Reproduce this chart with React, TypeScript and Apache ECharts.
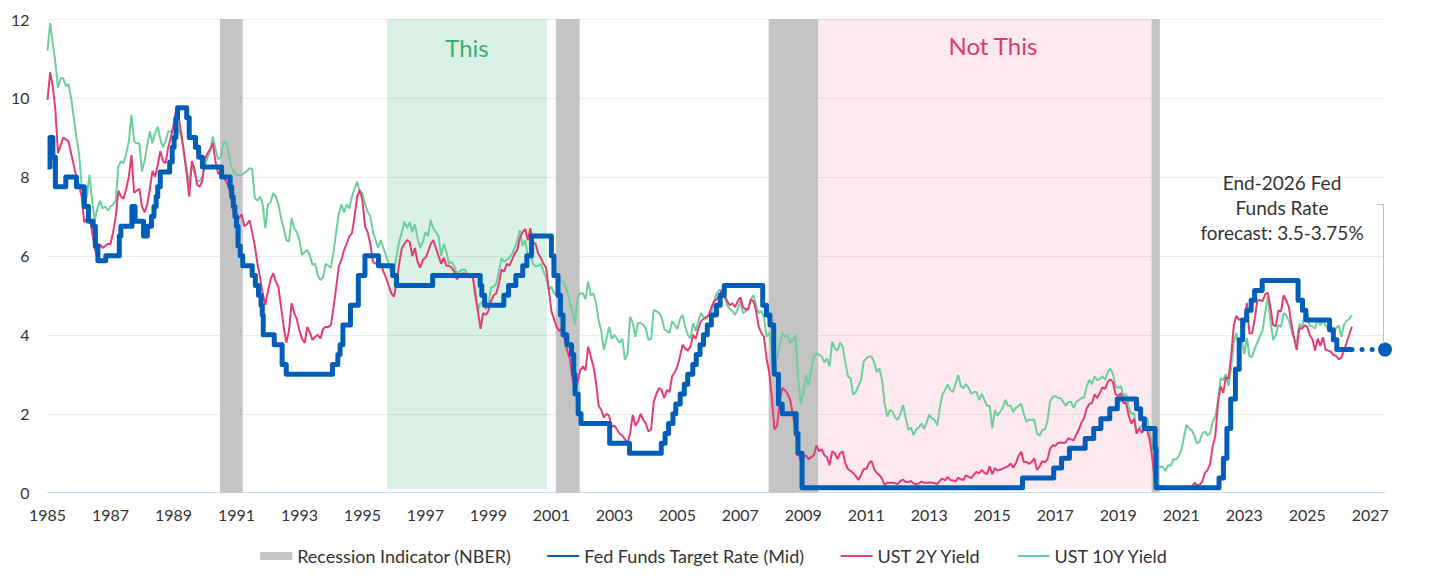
import React, { useEffect, useRef } from "react";
import * as echarts from "echarts";

const BASE_YEAR = 1985;
const AXIS_END_YEAR = 2027.47;

// Monthly UST 2Y yields, Jan 1985 .. Jun 2026 (one row per year)
const UST2Y: number[][] = [
  [9.95, 10.65, 10.3, 9.7, 8.6, 8.8, 9.0, 8.95, 8.9, 8.6, 8.3, 8.0],
  [7.8, 7.5, 6.85, 6.95, 7.0, 6.6, 6.2, 5.95, 6.3, 6.2, 6.25, 6.3],
  [6.3, 6.6, 7.0, 7.65, 7.5, 7.45, 7.7, 8.0, 8.55, 7.6, 7.65, 7.7],
  [7.25, 7.1, 7.3, 7.7, 8.15, 8.0, 8.3, 8.65, 8.4, 8.35, 8.75, 9.0],
  [9.3, 9.7, 9.5, 9.1, 8.6, 8.1, 7.5, 8.4, 8.2, 7.8, 7.75, 7.9],
  [8.45, 8.6, 8.7, 8.86, 8.4, 8.1, 8.05, 8.0, 7.9, 7.75, 7.45, 7.1],
  [7.05, 6.95, 7.05, 6.75, 6.8, 6.9, 6.6, 6.25, 5.8, 5.45, 5.05, 4.76],
  [5.1, 5.4, 5.56, 5.35, 5.2, 4.7, 4.2, 3.8, 4.1, 4.8, 4.55, 4.4],
  [4.1, 3.9, 3.79, 4.2, 4.05, 3.87, 3.95, 4.0, 3.9, 4.15, 4.2, 4.2],
  [4.25, 4.7, 5.2, 5.73, 5.9, 6.15, 6.3, 6.5, 6.57, 7.0, 7.5, 7.67],
  [7.4, 6.74, 6.6, 6.3, 5.85, 5.8, 5.85, 5.8, 5.6, 5.45, 5.25, 5.05],
  [4.97, 5.3, 5.8, 6.19, 6.3, 6.4, 6.35, 6.0, 6.2, 5.85, 5.7, 5.9],
  [5.95, 6.1, 6.3, 6.4, 6.2, 6.0, 5.8, 5.95, 5.75, 5.75, 5.7, 5.6],
  [5.4, 5.5, 5.55, 5.55, 5.5, 5.45, 5.5, 5.0, 4.6, 4.15, 4.55, 4.5],
  [4.6, 4.85, 5.0, 5.05, 5.3, 5.65, 5.6, 5.8, 5.75, 5.9, 6.05, 6.15],
  [6.45, 6.6, 6.68, 6.4, 6.7, 6.35, 6.3, 6.05, 5.95, 5.8, 5.7, 5.15],
  [4.6, 4.4, 4.2, 4.1, 4.15, 3.9, 3.6, 3.4, 2.9, 2.6, 2.8, 3.1],
  [3.2, 3.1, 3.7, 3.45, 3.2, 2.8, 2.2, 2.1, 1.9, 2.0, 1.95, 1.67],
  [1.7, 1.6, 1.5, 1.45, 1.35, 1.26, 1.5, 1.97, 1.7, 1.8, 2.0, 1.85],
  [1.75, 1.55, 1.6, 2.3, 2.5, 2.65, 2.6, 2.4, 2.6, 2.55, 2.95, 3.05],
  [3.2, 3.45, 3.75, 3.65, 3.6, 3.7, 4.0, 3.9, 4.15, 4.35, 4.4, 4.45],
  [4.5, 4.7, 4.85, 4.9, 5.0, 5.14, 5.0, 4.85, 4.75, 4.8, 4.7, 4.85],
  [4.95, 4.7, 4.65, 4.65, 4.9, 4.85, 4.6, 4.2, 4.05, 3.95, 3.4, 3.05],
  [2.4, 1.6, 1.7, 2.3, 2.65, 2.6, 2.5, 2.35, 2.0, 1.55, 1.05, 0.79],
  [0.9, 0.95, 0.85, 0.9, 0.95, 1.2, 1.05, 1.1, 0.95, 0.9, 0.7, 1.05],
  [1.0, 0.85, 1.0, 1.05, 0.75, 0.6, 0.55, 0.5, 0.42, 0.32, 0.45, 0.6],
  [0.6, 0.75, 0.8, 0.6, 0.5, 0.45, 0.35, 0.2, 0.25, 0.25, 0.25, 0.24],
  [0.22, 0.3, 0.33, 0.27, 0.27, 0.3, 0.23, 0.22, 0.23, 0.28, 0.25, 0.25],
  [0.26, 0.25, 0.24, 0.22, 0.3, 0.36, 0.31, 0.4, 0.32, 0.31, 0.28, 0.38],
  [0.34, 0.32, 0.44, 0.4, 0.37, 0.46, 0.53, 0.49, 0.58, 0.5, 0.47, 0.67],
  [0.47, 0.62, 0.56, 0.58, 0.61, 0.64, 0.67, 0.74, 0.64, 0.75, 0.93, 1.04],
  [0.78, 0.78, 0.73, 0.78, 0.87, 0.58, 0.66, 0.8, 0.77, 0.84, 1.11, 1.2],
  [1.19, 1.26, 1.27, 1.26, 1.28, 1.38, 1.35, 1.33, 1.47, 1.6, 1.78, 1.89],
  [2.14, 2.25, 2.27, 2.49, 2.4, 2.53, 2.67, 2.63, 2.81, 2.87, 2.8, 2.49],
  [2.45, 2.52, 2.27, 2.27, 1.95, 1.75, 1.87, 1.5, 1.63, 1.52, 1.61, 1.58],
  [1.33, 0.86, 0.25, 0.2, 0.16, 0.16, 0.11, 0.13, 0.13, 0.14, 0.15, 0.12],
  [0.11, 0.13, 0.16, 0.16, 0.14, 0.25, 0.19, 0.2, 0.28, 0.5, 0.57, 0.73],
  [1.18, 1.44, 2.28, 2.7, 2.53, 2.92, 2.89, 3.45, 4.22, 4.48, 4.38, 4.41],
  [4.21, 4.81, 4.03, 4.04, 4.4, 4.87, 4.88, 4.85, 5.03, 5.07, 4.68, 4.25],
  [4.21, 4.62, 4.59, 5.0, 4.87, 4.71, 4.26, 3.91, 3.62, 4.17, 4.15, 4.24],
  [4.2, 3.99, 3.88, 3.6, 3.9, 3.72, 3.94, 3.62, 3.6, 3.57, 3.49, 3.47],
  [3.38, 3.42, 3.6, 3.8, 4.0, 4.2],
];

// Monthly UST 10Y yields, Jan 1985 .. Jun 2026 (one row per year)
const UST10Y: number[][] = [
  [11.2, 11.9, 11.4, 10.9, 10.26, 10.5, 10.5, 10.3, 10.35, 10.0, 9.5, 9.02],
  [8.6, 7.8, 7.33, 7.5, 8.05, 7.4, 6.9, 7.2, 7.4, 7.2, 7.25, 7.15],
  [7.25, 7.3, 7.4, 8.26, 8.4, 8.35, 8.6, 8.9, 9.57, 8.9, 8.85, 8.85],
  [8.14, 8.4, 8.8, 9.15, 8.85, 9.1, 9.27, 8.95, 8.75, 8.9, 9.15, 9.15],
  [9.2, 9.32, 9.2, 9.0, 8.68, 8.2, 7.84, 8.3, 8.1, 7.88, 7.9, 8.0],
  [8.3, 8.5, 8.65, 9.02, 8.7, 8.45, 8.5, 8.85, 8.9, 8.6, 8.25, 8.14],
  [8.05, 8.05, 8.05, 8.1, 8.15, 8.22, 8.2, 7.46, 7.4, 7.5, 7.3, 6.7],
  [7.3, 7.35, 7.59, 7.5, 7.3, 6.95, 6.7, 6.4, 6.36, 6.95, 6.7, 6.6],
  [6.4, 6.02, 6.1, 6.15, 6.0, 5.77, 5.8, 5.5, 5.39, 5.45, 5.8, 5.75],
  [5.7, 6.1, 6.6, 7.08, 7.3, 7.1, 7.3, 7.2, 7.5, 7.7, 7.88, 7.6],
  [7.6, 7.3, 7.12, 7.0, 6.6, 6.4, 6.2, 6.4, 6.2, 6.0, 5.8, 5.56],
  [5.6, 6.0, 6.35, 6.6, 6.87, 6.7, 6.85, 6.6, 6.8, 6.45, 6.2, 6.35],
  [6.6, 6.5, 6.91, 6.7, 6.6, 6.5, 6.0, 6.3, 6.1, 5.8, 5.85, 5.73],
  [5.55, 5.6, 5.65, 5.65, 5.55, 5.48, 5.45, 5.18, 4.63, 4.8, 4.85, 4.65],
  [4.75, 5.2, 5.22, 5.3, 5.6, 5.94, 5.85, 5.9, 5.95, 6.05, 6.2, 6.4],
  [6.65, 6.25, 6.4, 6.0, 6.1, 5.8, 5.73, 5.75, 5.8, 5.6, 5.45, 5.14],
  [5.22, 5.05, 5.0, 5.4, 5.35, 5.3, 5.1, 4.85, 4.6, 4.25, 4.97, 5.05],
  [5.05, 4.9, 5.35, 5.0, 5.05, 4.8, 4.37, 4.1, 3.62, 3.9, 4.2, 3.9],
  [4.0, 3.9, 3.8, 3.9, 3.37, 3.5, 4.46, 4.3, 3.95, 4.3, 4.3, 4.25],
  [4.15, 3.87, 3.9, 4.63, 4.6, 4.55, 4.45, 4.15, 4.1, 4.05, 4.35, 4.25],
  [4.15, 4.4, 4.5, 4.2, 4.0, 3.91, 4.3, 4.1, 4.35, 4.55, 4.45, 4.4],
  [4.5, 4.55, 4.85, 5.05, 5.14, 5.1, 4.95, 4.75, 4.65, 4.6, 4.5, 4.65],
  [4.85, 4.55, 4.6, 4.65, 4.9, 5.0, 4.75, 4.55, 4.6, 4.45, 3.95, 4.05],
  [3.65, 3.5, 3.4, 3.75, 4.05, 3.95, 4.0, 3.8, 3.85, 4.0, 2.9, 2.25],
  [2.5, 2.98, 2.7, 3.1, 3.45, 3.53, 3.5, 3.45, 3.3, 3.4, 3.2, 3.83],
  [3.65, 3.6, 3.8, 3.7, 3.3, 2.94, 2.9, 2.48, 2.55, 2.7, 2.85, 3.32],
  [3.4, 3.45, 3.45, 3.3, 3.05, 3.15, 2.85, 2.25, 1.93, 2.1, 2.05, 1.9],
  [1.85, 2.0, 2.22, 1.9, 1.59, 1.65, 1.46, 1.6, 1.65, 1.75, 1.62, 1.78],
  [1.97, 1.88, 1.85, 1.7, 2.15, 2.48, 2.6, 2.74, 2.6, 2.55, 2.75, 2.98],
  [2.7, 2.65, 2.75, 2.65, 2.5, 2.55, 2.55, 2.35, 2.5, 2.35, 2.2, 2.2],
  [1.63, 2.1, 1.95, 2.05, 2.15, 2.35, 2.2, 2.2, 2.05, 2.15, 2.2, 2.25],
  [2.0, 1.8, 1.85, 1.85, 1.85, 1.5, 1.45, 1.58, 1.6, 1.8, 2.3, 2.43],
  [2.45, 2.4, 2.4, 2.3, 2.2, 2.3, 2.3, 2.15, 2.3, 2.35, 2.4, 2.42],
  [2.7, 2.86, 2.75, 2.95, 2.85, 2.88, 2.95, 2.86, 3.05, 3.15, 3.0, 2.7],
  [2.65, 2.7, 2.45, 2.5, 2.15, 2.0, 2.02, 1.5, 1.65, 1.69, 1.78, 1.9],
  [1.55, 1.15, 0.7, 0.64, 0.65, 0.66, 0.55, 0.7, 0.68, 0.85, 0.84, 0.92],
  [1.07, 1.4, 1.72, 1.63, 1.58, 1.45, 1.24, 1.3, 1.5, 1.55, 1.45, 1.5],
  [1.8, 1.93, 2.32, 2.9, 2.85, 3.0, 2.7, 3.15, 3.8, 4.05, 3.68, 3.88],
  [3.52, 3.92, 3.45, 3.44, 3.65, 3.81, 3.96, 4.11, 4.57, 4.97, 4.35, 3.87],
  [3.99, 4.25, 4.2, 4.55, 4.5, 4.36, 4.1, 3.9, 3.8, 4.28, 4.17, 4.55],
  [4.55, 4.23, 4.21, 4.16, 4.4, 4.24, 4.37, 4.23, 4.15, 4.08, 4.02, 4.17],
  [4.24, 3.95, 4.25, 4.35, 4.4, 4.5],
];

// Fed Funds target rate (mid): dates of changes (decimal years) and new levels
const FED_CHANGE_DATES: number[] = [
  1985.0, 1985.08, 1985.17, 1985.25, 1985.58, 1985.92,
  1986.17, 1986.3, 1986.45, 1986.52, 1986.6, 1986.85,
  1987.28, 1987.33, 1987.68, 1987.78,
  1988.05, 1988.17, 1988.3, 1988.38, 1988.45, 1988.5, 1988.58, 1988.88, 1988.96,
  1989.02, 1989.08, 1989.13, 1989.42, 1989.5, 1989.7, 1989.8, 1989.92,
  1990.53, 1990.8, 1990.85, 1990.9, 1990.95,
  1991.0, 1991.05, 1991.12, 1991.2, 1991.5, 1991.6, 1991.7, 1991.78, 1991.82, 1991.85,
  1992.2, 1992.45, 1992.58,
  1994.05, 1994.22, 1994.29, 1994.38, 1994.62, 1994.87,
  1995.08, 1995.51, 1995.96,
  1996.08, 1997.23, 1998.74, 1998.79, 1998.88,
  1999.49, 1999.64, 1999.87,
  2000.09, 2000.22, 2000.37,
  2001.0, 2001.08, 2001.21, 2001.29, 2001.37, 2001.49, 2001.64, 2001.71, 2001.75, 2001.85, 2001.94,
  2002.85, 2003.48,
  2004.49, 2004.61, 2004.72, 2004.86, 2004.95,
  2005.09, 2005.22, 2005.33, 2005.49, 2005.6, 2005.72, 2005.83, 2005.95,
  2006.08, 2006.24, 2006.36, 2006.49,
  2007.71, 2007.83, 2007.94,
  2008.06, 2008.08, 2008.21, 2008.33, 2008.77, 2008.83, 2008.96,
  2015.96, 2016.95, 2017.2, 2017.45, 2017.95,
  2018.22, 2018.45, 2018.73, 2018.97,
  2019.58, 2019.71, 2019.83,
  2020.17, 2020.2,
  2022.2, 2022.34, 2022.45, 2022.57, 2022.72, 2022.84, 2022.95,
  2023.08, 2023.22, 2023.33, 2023.57,
  2024.71, 2024.85, 2024.96,
  2025.71, 2025.83, 2025.94,
  2026.42,
];
const FED_CHANGE_RATES: number[] = [
  8.25, 9.0, 8.5, 7.75, 8.0, 7.75,
  7.25, 6.875, 6.75, 6.25, 5.875, 6.0,
  6.5, 6.75, 7.25, 6.875,
  6.5, 6.75, 7.0, 7.25, 7.5, 7.75, 8.125, 8.375, 8.75,
  9.0, 9.5, 9.75, 9.5, 9.0, 8.75, 8.5, 8.25,
  8.0, 7.75, 7.5, 7.25, 7.0,
  6.75, 6.25, 6.0, 5.75, 5.5, 5.25, 5.0, 4.75, 4.5, 4.0,
  3.75, 3.25, 3.0,
  3.25, 3.5, 3.75, 4.25, 4.75, 5.5,
  6.0, 5.75, 5.5,
  5.25, 5.5, 5.25, 5.0, 4.75,
  5.0, 5.25, 5.5,
  5.75, 6.0, 6.5,
  6.0, 5.5, 5.0, 4.5, 4.0, 3.75, 3.5, 3.0, 2.5, 2.0, 1.75,
  1.25, 1.0,
  1.25, 1.5, 1.75, 2.0, 2.25,
  2.5, 2.75, 3.0, 3.25, 3.5, 3.75, 4.0, 4.25,
  4.5, 4.75, 5.0, 5.25,
  4.75, 4.5, 4.25,
  3.5, 3.0, 2.25, 2.0, 1.5, 1.0, 0.125,
  0.375, 0.625, 0.875, 1.125, 1.375,
  1.625, 1.875, 2.125, 2.375,
  2.125, 1.875, 1.625,
  1.125, 0.125,
  0.375, 0.875, 1.625, 2.375, 3.125, 3.875, 4.375,
  4.625, 4.875, 5.125, 5.375,
  4.875, 4.625, 4.375,
  4.125, 3.875, 3.625,
  3.625,
];

const FORECAST_DATE = 2027.47;
const FORECAST_RATE = 3.625;

const RECESSION_STARTS = [1990.48, 2001.14, 2007.9, 2020.06];
const RECESSION_ENDS = [1991.2, 2001.9, 2009.47, 2020.32];

const THIS_PERIOD = [1995.78, 2000.86];
const NOT_THIS_PERIOD = [2009.47, 2020.06];
const HIGHLIGHT_FLOOR = 0.1;

const BLUE = "#005EB8";
const PINK = "#E63C74";
const GREEN = "#6DCF9A";
const GRAY = "#C4C4C4";
const FONT = "Lato";

const toX = (year: number) => year - BASE_YEAR;
const monthly = (rows: number[][]) =>
  rows.flat().map((v, i) => [i / 12, v]);

export default function App() {
  const ref = useRef<HTMLDivElement>(null);

  useEffect(() => {
    if (!ref.current) return;
    const chart = echarts.init(ref.current, null, { renderer: "svg" });

    const fedData = FED_CHANGE_DATES.map((d, i) => [toX(d), FED_CHANGE_RATES[i]]);
    const lastFed = fedData[fedData.length - 1];

    const hiddenSymbol = { opacity: 0 };

    const option: any = {
      animation: false,
      textStyle: { fontFamily: FONT },
      grid: { left: 47.5, right: 44, top: 19, bottom: 89.3 },
      xAxis: {
        type: "value",
        min: 0,
        max: toX(AXIS_END_YEAR),
        interval: 2,
        axisLine: { show: true, lineStyle: { color: "#C9DDF0", width: 1 } },
        axisTick: { show: false },
        splitLine: { show: false },
        axisLabel: {
          fontSize: 16,
          color: "#333",
          margin: 14,
          fontFamily: FONT,
          showMaxLabel: false,
          formatter: (v: number) =>
            Math.abs(v - Math.round(v)) < 1e-6 ? String(Math.round(v) + BASE_YEAR) : "",
        },
      },
      yAxis: {
        type: "value",
        min: 0,
        max: 12,
        interval: 2,
        axisLine: { show: false },
        axisTick: { show: false },
        splitLine: { lineStyle: { color: "#ECECEC", width: 1 } },
        axisLabel: { fontSize: 16, color: "#333", margin: 18, fontFamily: FONT },
      },
      legend: {
        data: [
          { name: "Recession Indicator (NBER)", icon: "rect", itemStyle: { color: GRAY } },
          { name: "Fed Funds Target Rate (Mid)", itemStyle: hiddenSymbol },
          { name: "UST 2Y Yield", itemStyle: hiddenSymbol },
          { name: "UST 10Y Yield", itemStyle: hiddenSymbol },
        ],
        left: "center",
        top: 542,
        itemWidth: 32,
        itemHeight: 8,
        itemGap: 35,
        selectedMode: false,
        textStyle: { fontSize: 18, color: "#333", fontFamily: FONT },
      },
      series: [
        {
          name: "Recession Indicator (NBER)",
          type: "line",
          data: [],
          z: 1,
          itemStyle: { color: GRAY },
          lineStyle: { color: GRAY },
          markArea: {
            silent: true,
            itemStyle: { color: GRAY },
            data: RECESSION_STARTS.map((s, i) => [
              { xAxis: toX(s), yAxis: 0 },
              { xAxis: toX(RECESSION_ENDS[i]), yAxis: 12 },
            ]),
          },
        },
        {
          name: "UST 10Y Yield",
          type: "line",
          data: monthly(UST10Y),
          symbol: "none",
          showSymbol: false,
          z: 2,
          itemStyle: { color: GREEN },
          lineStyle: { color: GREEN, width: 2 },
        },
        {
          name: "UST 2Y Yield",
          type: "line",
          data: monthly(UST2Y),
          symbol: "none",
          showSymbol: false,
          z: 3,
          itemStyle: { color: PINK },
          lineStyle: { color: PINK, width: 2 },
        },
        {
          name: "Fed Funds Target Rate (Mid)",
          type: "line",
          step: "end",
          data: fedData,
          symbol: "none",
          showSymbol: false,
          z: 4,
          itemStyle: { color: BLUE },
          lineStyle: { color: BLUE, width: 5, join: "round" },
        },
        {
          name: "forecast",
          type: "line",
          data: [
            { value: lastFed, symbol: "none" },
            { value: [toX(FORECAST_DATE), FORECAST_RATE], symbol: "circle", symbolSize: 14 },
          ],
          showSymbol: true,
          z: 4,
          itemStyle: { color: BLUE },
          lineStyle: { color: BLUE, width: 5, type: [0.1, 10], cap: "round" },
        },
        {
          name: "highlight",
          type: "line",
          data: [],
          z: 6,
          markArea: {
            silent: true,
            label: { show: true, position: "insideTop", distance: 16, fontSize: 24, fontFamily: FONT },
            data: [
              [
                {
                  name: "This",
                  xAxis: toX(THIS_PERIOD[0]),
                  yAxis: HIGHLIGHT_FLOOR,
                  itemStyle: { color: "rgba(52,180,110,0.18)" },
                  label: { color: "#3BAF6C" },
                },
                { xAxis: toX(THIS_PERIOD[1]), yAxis: 12 },
              ],
              [
                {
                  name: "Not This",
                  xAxis: toX(NOT_THIS_PERIOD[0]),
                  yAxis: HIGHLIGHT_FLOOR,
                  itemStyle: { color: "rgba(224,51,110,0.11)" },
                  label: { color: "#E0386F", distance: 14, offset: [8, 0] },
                },
                { xAxis: toX(NOT_THIS_PERIOD[1]), yAxis: 12 },
              ],
            ],
          },
        },
      ],
    };

    chart.setOption(option);

    const pt = chart.convertToPixel({ xAxisIndex: 0, yAxisIndex: 0 }, [
      toX(FORECAST_DATE),
      FORECAST_RATE,
    ]) as number[];
    const px = pt[0];
    const py = pt[1];
    chart.setOption({
      graphic: [
        {
          type: "polyline",
          silent: true,
          z: 20,
          shape: {
            points: [
              [px - 8, py - 145],
              [px - 1.5, py - 145],
              [px - 1.5, py - 6],
            ],
          },
          style: { stroke: "#9CC9EE", lineWidth: 1, fill: "none" },
        },
        {
          type: "text",
          silent: true,
          z: 20,
          x: px - 103,
          y: py - 142,
          style: {
            text: "End-2026 Fed\nFunds Rate\nforecast: 3.5-3.75%",
            align: "center",
            verticalAlign: "middle",
            fontSize: 19,
            lineHeight: 25,
            fontFamily: FONT,
            fill: "#333",
          },
        },
      ],
    });

    return () => chart.dispose();
  }, []);

  return (
    <div
      ref={ref}
      style={{ position: "fixed", left: 0, top: 0, width: 1429, height: 582, background: "#fff" }}
    />
  );
}
